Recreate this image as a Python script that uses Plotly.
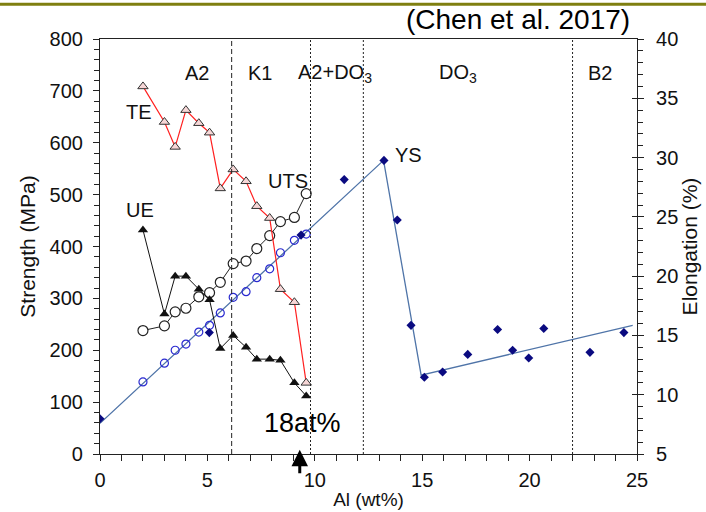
import plotly.graph_objects as go

# ---- data ----
al_wt = [2.0, 3.0, 3.5, 4.0, 4.6, 5.1, 5.6, 6.2, 6.8, 7.3, 7.9, 8.4, 9.05, 9.6]
te = [36.0, 33.0, 30.9, 34.0, 32.9, 32.1, 27.4, 29.0, 28.0, 25.9, 24.9, 18.9, 17.8, 11.0]
ue = [23.9, 16.8, 20.0, 20.0, 18.9, 18.0, 13.9, 15.0, 14.0, 13.0, 13.0, 12.9, 11.0, 9.9]
uts = [238, 247, 274, 281, 303, 311, 331, 367, 372, 396, 421, 448, 456, 502]
ys_open = [139, 175, 200, 212, 235, 248, 272, 302, 313, 340, 357, 388, 412, 424]

ys_x = [0.0, 5.09, 9.36, 11.37, 13.22, 13.84, 14.48, 15.10, 15.95, 17.12, 18.51,
        19.21, 19.96, 20.66, 22.81, 24.39]
ys_y = [68, 234, 422, 529, 566, 451, 248, 148, 158, 192, 240, 200, 185, 242, 196, 234]

fit_x = [0.0, 13.2, 14.95, 24.8]
fit_y = [59, 566, 152, 248]

boundaries = [6.13, 9.8, 12.26, 22.0]
boundary_dash = ["5px,3px", "2px,2px", "2px,2px", "2px,2px"]

phase_labels = ["A2", "K1", "A2+DO<sub>3</sub>", "DO<sub>3</sub>", "B2"]
phase_x = [4.5, 7.45, 10.95, 16.67, 23.3]

series_labels = ["TE", "UE", "UTS", "YS"]
series_label_x = [1.82, 1.86, 8.75, 14.34]
series_label_y = [659, 470, 526, 576]

FONT = "Liberation Sans, Arial, sans-serif"

fig = go.Figure()

fig.add_trace(go.Scatter(x=fit_x, y=fit_y, mode="lines",
                         line=dict(color="#4f74a8", width=1.3), yaxis="y", showlegend=False))
fig.add_trace(go.Scatter(x=al_wt, y=uts, mode="lines+markers",
                         line=dict(color="#222222", width=1),
                         marker=dict(symbol="circle", size=10, color="white",
                                     line=dict(color="#222222", width=1.2)),
                         showlegend=False))
fig.add_trace(go.Scatter(x=al_wt, y=ys_open, mode="markers",
                         marker=dict(symbol="circle-open", size=8, color="#2a2ad0",
                                     line=dict(color="#2a2ad0", width=1.2)),
                         showlegend=False))
fig.add_trace(go.Scatter(x=ys_x, y=ys_y, mode="markers",
                         marker=dict(symbol="diamond", size=7, color="#0a0a80"),
                         showlegend=False))
fig.add_trace(go.Scatter(x=al_wt, y=te, mode="lines+markers", yaxis="y2",
                         line=dict(color="#ff2020", width=1.2),
                         marker=dict(symbol="triangle-up", size=9, color="#f6d6d6",
                                     line=dict(color="#333333", width=1)),
                         showlegend=False))
fig.add_trace(go.Scatter(x=al_wt, y=ue, mode="lines+markers", yaxis="y2",
                         line=dict(color="#111111", width=1),
                         marker=dict(symbol="triangle-up", size=9, color="#111111"),
                         showlegend=False))
# invisible trace to activate tick overlay axis
fig.add_trace(go.Scatter(x=[None], y=[None], yaxis="y3", showlegend=False))

shapes = []
for bx, d in zip(boundaries, boundary_dash):
    shapes.append(dict(type="line", xref="x", yref="paper", x0=bx, x1=bx, y0=0, y1=1,
                       line=dict(color="#222222", width=1, dash=d)))
shapes.append(dict(type="line", xref="paper", yref="paper", x0=-0.2, x1=1.15,
                   y0=1.084, y1=1.084, line=dict(color="#7f7f10", width=3)))

annotations = []
for lab, px in zip(phase_labels, phase_x):
    annotations.append(dict(x=px, y=734, xref="x", yref="y", text=lab, showarrow=False,
                            font=dict(size=20, color="#111111", family=FONT)))
for lab, lx, ly in zip(series_labels, series_label_x, series_label_y):
    annotations.append(dict(x=lx, y=ly, xref="x", yref="y", text=lab, showarrow=False,
                            font=dict(size=20, color="#111111", family=FONT)))
annotations.append(dict(x=9.45, y=60, xref="x", yref="y", text="18at%", showarrow=False,
                        font=dict(size=27, color="#000000", family=FONT)))
annotations.append(dict(x=9.3, y=8, xref="x", yref="y", text="", showarrow=True,
                        ax=0, ay=25, axref="pixel", ayref="pixel",
                        arrowhead=2, arrowsize=1.1, arrowwidth=3, arrowcolor="#000000"))
annotations.append(dict(x=0.9907, y=1.046, xref="paper", yref="paper",
                        text="(Chen et al. 2017)", showarrow=False, xanchor="right",
                        yanchor="middle",
                        font=dict(size=28, color="#000000", family=FONT)))

axis_common = dict(showline=True, linecolor="#222222", linewidth=1.2, showgrid=False,
                   zeroline=False, tickcolor="#222222", ticklen=6, tickwidth=1,
                   automargin=False,
                   tickfont=dict(size=20, family=FONT, color="#111111"))

fig.update_layout(
    width=706, height=512,
    margin=dict(l=100, r=69, t=39, b=58),
    paper_bgcolor="white", plot_bgcolor="white",
    shapes=shapes, annotations=annotations,
    xaxis=dict(range=[0, 25], tickvals=[0, 5, 10, 15, 20, 25], ticks="outside",
               minor=dict(dtick=1, ticks="outside", ticklen=6, tickcolor="#222222"),
               mirror=True, ticklabelstandoff=2,
               title=dict(text="Al (wt%)", font=dict(size=19, family=FONT, color="#111111"),
                          standoff=2),
               **axis_common),
    yaxis=dict(range=[0, 800], dtick=100, ticks="outside", ticklabelstandoff=6,
               minor=dict(dtick=20, ticks="outside", ticklen=5, tickcolor="#222222"),
               title=dict(text="Strength (MPa)",
                          font=dict(size=21, family=FONT, color="#111111"), standoff=8),
               **axis_common),
    yaxis2=dict(range=[5, 40], dtick=5, ticks="outside", overlaying="y", side="right",
                ticklabelstandoff=8,
                minor=dict(dtick=1, ticks="outside", ticklen=5, tickcolor="#222222"),
                title=dict(text="Elongation (%)",
                           font=dict(size=21, family=FONT, color="#111111"), standoff=2),
                **axis_common),
    yaxis3=dict(range=[5, 40], dtick=5, ticks="inside", overlaying="y", side="right",
                showticklabels=False, showline=False, showgrid=False, zeroline=False,
                ticklen=5, tickcolor="#222222"),
)

fig.write_html("out.html")
